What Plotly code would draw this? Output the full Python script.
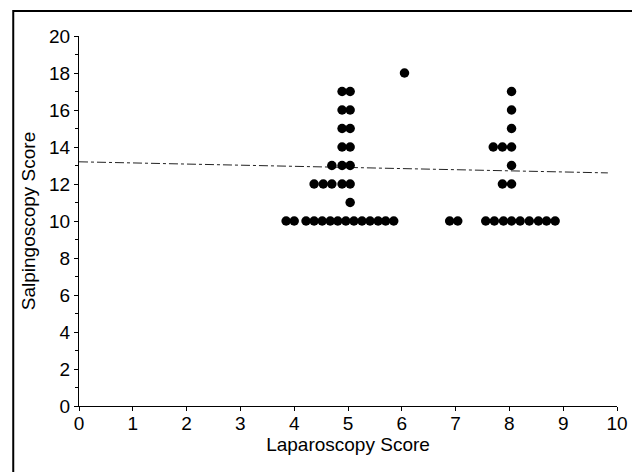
import plotly.graph_objects as go

# Dot positions (ties are spread side by side)
lap_x = [
    # score ~4/5 group, Salpingoscopy = 10
    3.85, 4.00, 4.22, 4.37, 4.52, 4.67, 4.81, 4.96, 5.11, 5.26, 5.41, 5.56, 5.70, 5.85,
    # Salpingoscopy = 11
    5.04,
    # = 12
    4.37, 4.54, 4.70, 4.89, 5.04,
    # = 13
    4.70, 4.89, 5.04,
    # = 14, 15, 16, 17
    4.89, 5.04, 4.89, 5.04, 4.89, 5.04, 4.89, 5.04,
    # score 6, = 18
    6.05,
    # score 7, = 10
    6.89, 7.04,
    # score 8 group, = 10
    7.56, 7.72, 7.89, 8.04, 8.20, 8.37, 8.54, 8.69, 8.85,
    # = 12
    7.87, 8.04,
    # = 13
    8.04,
    # = 14
    7.70, 7.87, 8.04,
    # = 15, 16, 17
    8.04, 8.04, 8.04,
]
salp_y = (
    [10] * 14 + [11] + [12] * 5 + [13] * 3 + [14, 14, 15, 15, 16, 16, 17, 17]
    + [18] + [10, 10] + [10] * 9 + [12, 12] + [13] + [14, 14, 14] + [15, 16, 17]
)

# Regression line end points
fit_x = [0, 9.83]
fit_y = [13.2, 12.6]

x_ticks = list(range(0, 11))
y_ticks = list(range(0, 21, 2))

FONT = "Liberation Sans, Arial, sans-serif"

fig = go.Figure()
fig.add_trace(go.Scatter(
    x=fit_x, y=fit_y, mode="lines",
    line=dict(color="#222", width=1, dash="dashdot"),
    showlegend=False, hoverinfo="skip",
))
fig.add_trace(go.Scatter(
    x=lap_x, y=salp_y, mode="markers",
    marker=dict(color="black", size=9.5, line=dict(width=0)),
    showlegend=False,
))

# page body has an 8px margin, so the figure is 8px smaller and offset
fig.update_layout(
    width=632, height=464,
    margin=dict(l=71, r=21, t=28, b=66),
    paper_bgcolor="white", plot_bgcolor="white",
    font=dict(family=FONT, size=19, color="black"),
    xaxis=dict(
        range=[0, 10], tickvals=x_ticks, ticktext=[str(v) for v in x_ticks],
        showgrid=False, zeroline=False, showline=True, linecolor="black", linewidth=1,
        ticks="outside", ticklen=4, tickcolor="black", tickfont=dict(size=19),
        ticklabelstandoff=-4,
        title=dict(text="Laparoscopy Score", font=dict(size=19), standoff=2),
    ),
    yaxis=dict(
        range=[0, 20], tickvals=y_ticks, ticktext=[str(v) for v in y_ticks],
        showgrid=False, zeroline=False, showline=True, linecolor="black", linewidth=1,
        ticks="outside", ticklen=4, tickcolor="black", tickfont=dict(size=19),
        minor=dict(dtick=1, tick0=0, ticks="outside", ticklen=3, tickcolor="black", showgrid=False),
        title=dict(text="Salpingoscopy Score", font=dict(size=19), standoff=8),
    ),
    shapes=[
        dict(type="rect", xref="paper", yref="paper",
             x0=(13 - 79) / 540, x1=(637 - 79) / 540,
             y0=-0.3, y1=(406 - 11) / 370,
             line=dict(color="black", width=2), fillcolor="rgba(0,0,0,0)"),
    ],
)

fig.write_html("out.html")
